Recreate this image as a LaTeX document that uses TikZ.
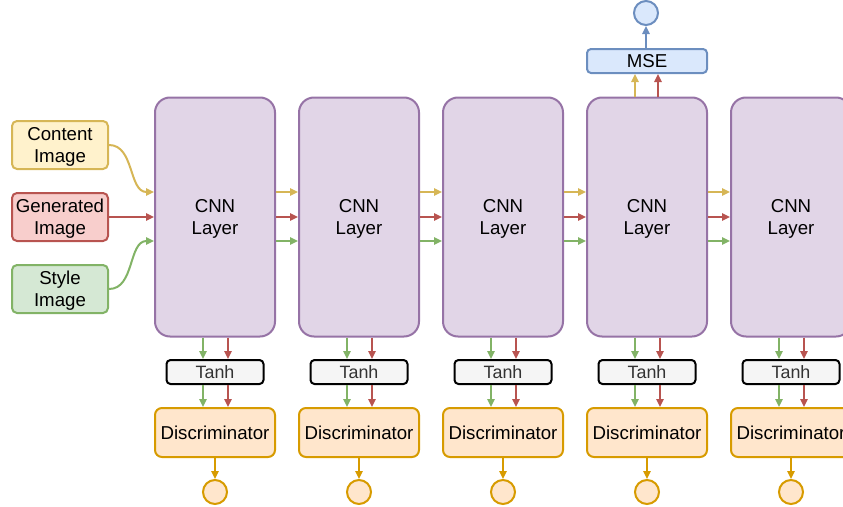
\documentclass[tikz,border=0pt]{standalone}
\usepackage{fontspec}
\setmainfont{Liberation Sans}
\usetikzlibrary{arrows.meta,calc}
\definecolor{yelF}{HTML}{FFF2CC}\definecolor{yelD}{HTML}{D6B656}
\definecolor{redF}{HTML}{F8CECC}\definecolor{redD}{HTML}{B85450}
\definecolor{grnF}{HTML}{D5E8D4}\definecolor{grnD}{HTML}{82B366}
\definecolor{purF}{HTML}{E1D5E7}\definecolor{purD}{HTML}{9673A6}
\definecolor{orgF}{HTML}{FFE6CC}\definecolor{orgD}{HTML}{D79B00}
\definecolor{bluF}{HTML}{DAE8FC}\definecolor{bluD}{HTML}{6C8EBF}
\definecolor{gryF}{HTML}{F5F5F5}\definecolor{gryT}{HTML}{333333}
\newcommand{\lowr}[1]{\raisebox{-1.5pt}[\height][\depth]{#1}}
\begin{document}
\begin{tikzpicture}[x=0.75pt,y=-0.75pt,
  box/.style={draw, line width=1.5pt, align=center, inner sep=0pt,
    font=\fontsize{14}{16.5}\selectfont},
  inbox/.style={box, minimum width=72pt, minimum height=36pt, rounded corners=3.75pt},
  cnn/.style={box, fill=purF, draw=purD, minimum width=90pt, minimum height=179.25pt, rounded corners=11.25pt},
  tanhbox/.style={box, fill=gryF, draw=black, text=gryT, minimum width=72.75pt, minimum height=18pt, rounded corners=3pt, font=\fontsize{13.4}{16}\selectfont},
  disc/.style={box, fill=orgF, draw=orgD, minimum width=90pt, minimum height=36.75pt, rounded corners=5.25pt},
  msebox/.style={box, fill=bluF, draw=bluD, minimum width=90pt, minimum height=18pt, rounded corners=3pt},
  outc/.style={circle, draw, line width=1.5pt, minimum size=18pt, inner sep=0pt},
  conn/.style={line width=1.5pt, -{Triangle[length=6pt,width=5.5pt]}},
  ay/.style={conn, draw=yelD, color=yelD},
  ar/.style={conn, draw=redD, color=redD},
  ag/.style={conn, draw=grnD, color=grnD},
  ao/.style={conn, draw=orgD, color=orgD},
  ab/.style={conn, draw=bluD, color=bluD}]
\useasboundingbox (0,0) rectangle (843,507);
\clip (0,0) rectangle (843,507);

\node[inbox, fill=yelF, draw=yelD] (content) at (60,145) {\lowr{Content}\\\lowr{Image}};
\node[inbox, fill=redF, draw=redD] (gen) at (60,217) {\lowr{Generated}\\\lowr{Image}};
\node[inbox, fill=grnF, draw=grnD] (style) at (60,289) {\lowr{Style}\\\lowr{Image}};

\foreach \i in {1,...,5} {
  \pgfmathsetmacro{\cx}{215+144*(\i-1)}
  \node[cnn] (c\i) at (\cx,217) {\lowr{CNN}\\\lowr{Layer}};
  \node[tanhbox] (t\i) at (\cx,372) {Tanh};
  \node[disc] (d\i) at (\cx,432.5) {Discriminator};
  \node[outc, fill=orgF, draw=orgD] (o\i) at (\cx,492) {};
  \draw[ag] ($(c\i.south)+(-12,0)$) -- ($(t\i.north)+(-12,0)$);
  \draw[ar] ($(c\i.south)+(13,0)$) -- ($(t\i.north)+(13,0)$);
  \draw[ag] ($(t\i.south)+(-12,0)$) -- ($(d\i.north)+(-12,0)$);
  \draw[ar] ($(t\i.south)+(13,0)$) -- ($(d\i.north)+(13,0)$);
  \draw[ao] (d\i.south) -- (o\i.north);
}

\foreach \i/\j in {1/2,2/3,3/4,4/5} {
  \draw[ay] ($(c\i.east)+(0,-25)$) -- ($(c\j.west)+(0,-25)$);
  \draw[ar] (c\i.east) -- (c\j.west);
  \draw[ag] ($(c\i.east)+(0,24)$) -- ($(c\j.west)+(0,24)$);
}

\draw[ay] (content.east) to[out=0,in=180] ($(c1.west)+(0,-25)$);
\draw[ar] (gen.east) -- (c1.west);
\draw[ag] (style.east) to[out=0,in=180] ($(c1.west)+(0,24)$);

\node[msebox] (mse) at (647,61) {MSE};
\node[outc, fill=bluF, draw=bluD] (top) at (646,13) {};
\draw[ay] ($(c4.north)+(-12,0)$) -- ($(mse.south)+(-12,0)$);
\draw[ar] ($(c4.north)+(11,0)$) -- ($(mse.south)+(11,0)$);
\draw[ab] (mse.north -| top) -- (top.south);
\end{tikzpicture}
\end{document}
